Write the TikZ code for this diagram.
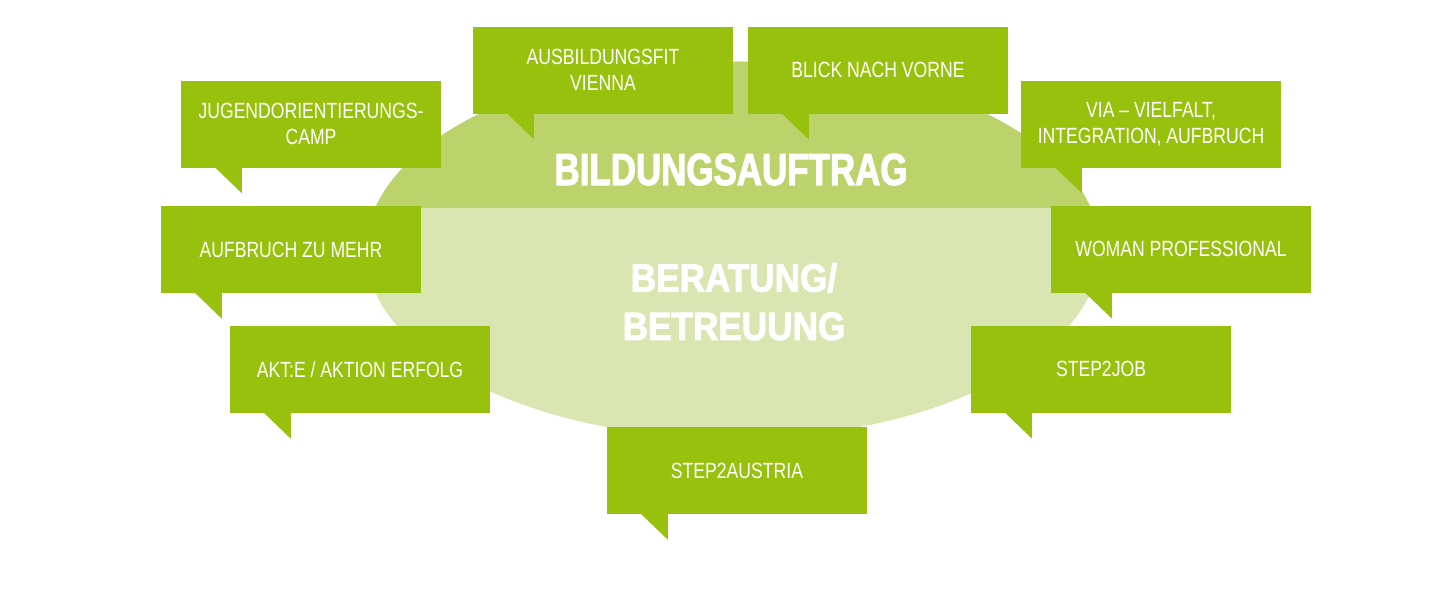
\documentclass[tikz,border=0pt]{standalone}
\usepackage{fontspec}
\newfontfamily\boxfont[FakeStretch=0.80]{Liberation Sans}
\newfontfamily\titleAfont[FakeStretch=0.776,BoldFeatures={FakeBold=2.2}]{Liberation Sans}
\newfontfamily\titleBfont[FakeStretch=0.89,BoldFeatures={FakeBold=2.2}]{Liberation Sans}
\definecolor{boxgreen}{RGB}{152,193,14}
\definecolor{ovaldark}{RGB}{188,211,108}
\definecolor{ovallight}{RGB}{217,230,177}
\tikzset{
  pbox/.style={rectangle, fill=boxgreen, minimum width=260pt, minimum height=87pt,
    inner sep=0pt, align=center, text=white,
    font=\boxfont\fontsize{22}{26}\selectfont},
  titleA/.style={text=white, inner sep=0pt, font=\titleAfont\bfseries\fontsize{45}{50}\selectfont},
  titleB/.style={text=white, inner sep=0pt, align=center, font=\titleBfont\bfseries\fontsize{39.5}{48.3}\selectfont},
}
\newcommand\speechtail[1]{%
  \fill[boxgreen] ([xshift=34pt,yshift=0.5pt]#1.south west) --
    ([xshift=61pt,yshift=-25.5pt]#1.south west) --
    ([xshift=61pt,yshift=0.5pt]#1.south west) -- cycle;}
\begin{document}
\begin{tikzpicture}[x=1pt,y=-1pt]
\useasboundingbox (0,0) rectangle (1440,600);
% oval
\fill[ovallight] (733,250) ellipse [x radius=367pt, y radius=188.5pt];
\begin{scope}
  \clip (0,0) rectangle (1440,207.7);
  \fill[ovaldark] (733,250) ellipse [x radius=367pt, y radius=188.5pt];
\end{scope}
% titles
\node[titleA, anchor=base] (t1) at (731,185) {BILDUNGSAUFTRAG};
\node[titleB] (t2) at (734,301.7) {BERATUNG/\\BETREUUNG};
% speech boxes
\node[pbox] (jug)  at (311,124)   {JUGENDORIENTIERUNGS-\\CAMP};
\node[pbox] (aus)  at (603,70)    {AUSBILDUNGSFIT\\VIENNA};
\node[pbox] (blk)  at (878,70.3)  {BLICK NACH VORNE};
\node[pbox] (via)  at (1151,124)  {VIA – VIELFALT,\\INTEGRATION, AUFBRUCH};
\node[pbox] (auf)  at (291,249.5) {AUFBRUCH ZU MEHR};
\node[pbox] (wom)  at (1181,249.3){WOMAN PROFESSIONAL};
\node[pbox] (akt)  at (360,369.5) {AKT:E / AKTION ERFOLG};
\node[pbox] (sjob) at (1101,369.3){STEP2JOB};
\node[pbox] (saus) at (737,470.5) {STEP2AUSTRIA};
\speechtail{jug}
\speechtail{aus}
\speechtail{blk}
\speechtail{via}
\speechtail{auf}
\speechtail{wom}
\speechtail{akt}
\speechtail{sjob}
\speechtail{saus}
\end{tikzpicture}
\end{document}
